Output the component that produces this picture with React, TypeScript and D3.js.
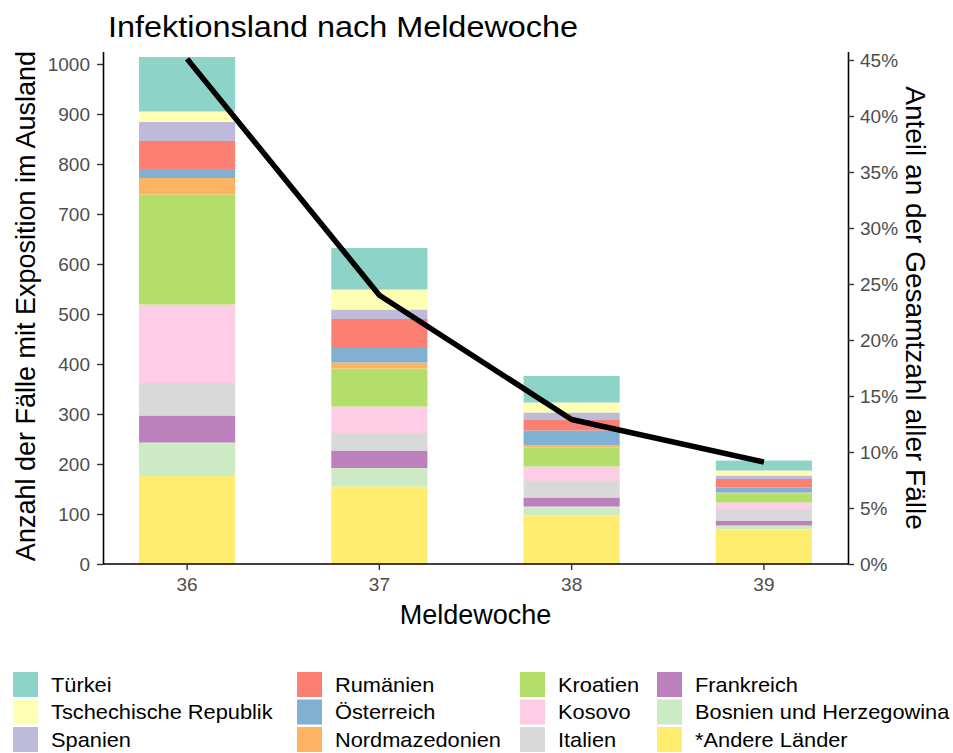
import { useEffect, useRef } from 'react'
import * as d3 from 'd3'

const W = 953, H = 753
const M = { top: 51.5, left: 103, right: 105, bottom: 189 }

const weeks = ['36', '37', '38', '39']
// stack order, bottom to top
const countries = [
  '*Andere Länder', 'Bosnien und Herzegowina', 'Frankreich', 'Italien', 'Kosovo', 'Kroatien',
  'Nordmazedonien', 'Österreich', 'Rumänien', 'Spanien', 'Tschechische Republik', 'Türkei',
]
const colors = [
  '#FFED6F', '#CCEBC5', '#BC80BD', '#D9D9D9', '#FCCDE5', '#B3DE69',
  '#FDB462', '#80B1D3', '#FB8072', '#BEBADA', '#FFFFB3', '#8DD3C7',
]
// cases per week, same order as countries
const w36 = [176, 67, 54, 65, 157, 220, 33, 18, 56, 38, 21, 109]
const w37 = [155, 37, 35, 35, 53, 76, 12, 29, 58, 19, 40, 83]
const w38 = [97, 18, 18, 33, 29, 38, 4, 30, 21, 15, 20, 53]
const w39 = [69, 8, 9, 24, 13, 18, 2, 10, 17, 7, 10, 20]
const share = [45.1, 24.0, 12.9, 9.1]

const leftTicks = [0, 100, 200, 300, 400, 500, 600, 700, 800, 900, 1000]
const rightTicks = [0, 5, 10, 15, 20, 25, 30, 35, 40, 45]

const legendOrder = [
  'Türkei', 'Tschechische Republik', 'Spanien',
  'Rumänien', 'Österreich', 'Nordmazedonien',
  'Kroatien', 'Kosovo', 'Italien',
  'Frankreich', 'Bosnien und Herzegowina', '*Andere Länder',
]
const legendColX = [13, 297, 520, 657]

const FONT = 'Liberation Sans, Arial, sans-serif'

export default function App() {
  const svgRef = useRef<SVGSVGElement>(null)

  useEffect(() => {
    const svg = d3.select(svgRef.current!)
    svg.selectAll('*').remove()

    const iw = W - M.left - M.right
    const ih = H - M.top - M.bottom
    const series = [w36, w37, w38, w39]
    const rows = weeks.map((w, i) => {
      const r: Record<string, number | string> = { week: w }
      countries.forEach((c, j) => { r[c] = series[i][j] })
      return r
    })

    const x = d3.scaleBand<string>().domain(weeks).range([0, iw])
      .paddingInner(0.5).paddingOuter(0.1875)
    const y = d3.scaleLinear().domain([0, 1025]).range([ih, 0])
    const y2 = d3.scaleLinear().domain([0, 1025 / 22.4]).range([ih, 0])
    const color = d3.scaleOrdinal<string, string>().domain(countries).range(colors)

    const g = svg.append('g').attr('transform', `translate(${M.left},${M.top})`)

    const stack = d3.stack<Record<string, number | string>>().keys(countries)
      .value((d, k) => d[k] as number)
    const layers = stack(rows)

    layers.forEach(layer => {
      g.append('g').selectAll('rect').data(layer).join('rect')
        .attr('x', d => x(d.data.week as string)!)
        .attr('width', x.bandwidth())
        .attr('y', d => y(d[1]))
        .attr('height', d => y(d[0]) - y(d[1]))
        .attr('fill', color(layer.key))
    })

    // share line
    const line = d3.line<number>()
      .x((_, i) => x(weeks[i])! + x.bandwidth() / 2)
      .y(v => y2(v))
    g.append('path').datum(share)
      .attr('fill', 'none').attr('stroke', '#000').attr('stroke-width', 5.5)
      .attr('stroke-linejoin', 'round').attr('d', line)

    const styleAxis = (ax: d3.Selection<SVGGElement, unknown, null, undefined>) => {
      ax.select('.domain').attr('stroke', '#000').attr('stroke-width', 1.6)
      ax.selectAll('.tick line').attr('stroke', '#333').attr('stroke-width', 1.4)
      ax.selectAll<SVGTextElement, unknown>('.tick text')
        .attr('font-size', 19).attr('font-family', FONT).attr('fill', '#4d4d4d')
    }

    g.append('g').call(d3.axisLeft(y).tickValues(leftTicks).tickSize(6).tickPadding(7)
      .tickSizeOuter(0).tickFormat(d3.format('d')))
      .call(styleAxis)
    g.append('g').attr('transform', `translate(${iw},0)`)
      .call(d3.axisRight(y2).tickValues(rightTicks).tickSize(6).tickPadding(6).tickSizeOuter(0)
        .tickFormat(d => `${d}%`))
      .call(styleAxis)
    const xa = g.append('g').attr('transform', `translate(0,${ih})`)
      .call(d3.axisBottom(x).tickSize(6).tickPadding(8).tickSizeOuter(0))
      .call(styleAxis)
    xa.select('.domain').attr('d', `M0,0H${iw}`)

    // titles
    svg.append('text').attr('transform', 'translate(108,37) scale(1.08,1)')
      .attr('font-size', 30).attr('font-family', FONT).attr('fill', '#000')
      .text('Infektionsland nach Meldewoche')
    svg.append('text').attr('x', M.left + iw / 2).attr('y', 624).attr('text-anchor', 'middle')
      .attr('font-size', 27).attr('font-family', FONT).attr('fill', '#000').text('Meldewoche')
    svg.append('text').attr('transform', 'translate(35,306) rotate(-90)')
      .attr('text-anchor', 'middle').attr('font-size', 27).attr('font-family', FONT)
      .attr('fill', '#000').text('Anzahl der Fälle mit Exposition im Ausland')
    svg.append('text').attr('transform', 'translate(906,308) rotate(90)')
      .attr('text-anchor', 'middle').attr('font-size', 28).attr('font-family', FONT)
      .attr('fill', '#000').text('Anteil an der Gesamtzahl aller Fälle')

    // legend
    const lg = svg.append('g')
    legendOrder.forEach((name, i) => {
      const col = Math.floor(i / 3), row = i % 3
      const lx = legendColX[col], ly = 684.5 + row * 27.5
      lg.append('rect').attr('x', lx).attr('y', ly - 12.5).attr('width', 25).attr('height', 25)
        .attr('fill', color(name))
      lg.append('text').attr('transform', `translate(${lx + 38},${ly}) scale(1.09,1)`)
        .attr('dominant-baseline', 'central')
        .attr('font-size', 20).attr('font-family', FONT).attr('fill', '#000').text(name)
    })
  }, [])

  return (
    <svg ref={svgRef} width={W} height={H} viewBox={`0 0 ${W} ${H}`}
      style={{ position: 'fixed', left: 0, top: 0, background: '#fff' }} />
  )
}
